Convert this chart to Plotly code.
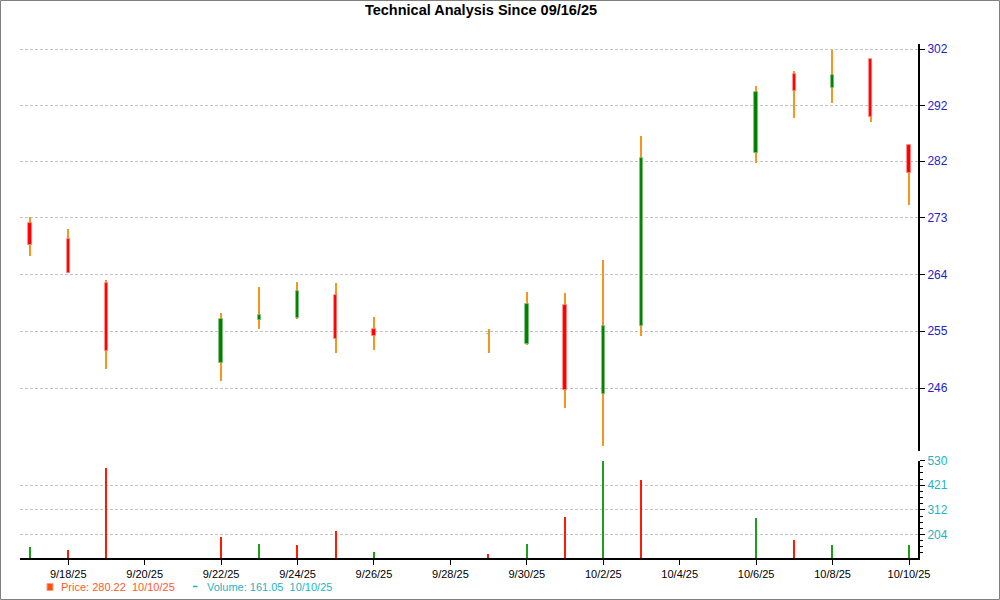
import plotly.graph_objects as go
import numpy as np
import pandas as pd

# ---------------- data ----------------
dates = ["2025-09-17", "2025-09-18", "2025-09-19", "2025-09-22", "2025-09-23",
         "2025-09-24", "2025-09-25", "2025-09-26", "2025-09-29", "2025-09-30",
         "2025-10-01", "2025-10-02", "2025-10-03", "2025-10-06", "2025-10-07",
         "2025-10-08", "2025-10-09", "2025-10-10"]
open_ = [271.9, 269.2, 262.1, 249.7, 256.4, 256.6, 260.3, 254.9, 254.1, 252.6,
         258.6, 245.1, 255.4, 283.5, 297.4, 294.9, 300.1, 284.9]
high = [272.8, 270.8, 262.6, 257.4, 261.5, 262.3, 262.1, 256.8, 254.9, 260.7,
        260.5, 265.8, 286.5, 295.3, 298.0, 301.9, 300.1, 284.9]
low = [266.5, 263.7, 248.8, 247.1, 255.0, 256.5, 251.3, 251.7, 251.2, 252.5,
       243.1, 237.5, 253.8, 281.9, 289.7, 292.3, 289.0, 274.8]
close = [268.3, 263.8, 251.6, 256.5, 257.1, 260.8, 253.4, 253.9, 254.1, 258.9,
         245.7, 255.4, 282.7, 294.3, 294.5, 297.2, 289.8, 280.22]
volume = [151, 138, 497, 195, 164, 160, 222, 129, 120, 164,
          284, 530, 448, 280, 182, 160, None, 161.05]
volume_up = [1, 0, 0, 0, 1, 0, 0, 1, 0, 1, 0, 1, 0, 1, 0, 1, None, 1]

price_ticks = [246, 254.6, 263.5, 272.7, 282.2, 291.8, 302]
price_ticklabels = ["246", "255", "264", "273", "282", "292", "302"]
volume_ticks = [204, 312, 421, 530]
volume_ticklabels = ["204", "312", "421", "530"]
title_text = "Technical Analysis Since 09/16/25"
last_label = "10/10/25"

# ---------------- geometry helpers ----------------
W, H = 1000, 600
ML, MR, MT, MB = 20, 82, 44, 42
PW, PH = W - ML - MR, H - MT - MB


def px_x(px):
    return (px - ML) / PW


def px_y(py):
    return (H - MB - py) / PH


DAY = 86400000
px_per_day = 38.217
ms_per_px = DAY / px_per_day

x = pd.to_datetime(dates)
o = np.array(open_)
h = np.array(high)
l = np.array(low)
c = np.array(close)
up = c >= o

WICK = "#f5961e"
RED = "#ff0000"
GREEN = "#008000"

fig = go.Figure()

# wicks
fig.add_trace(go.Bar(
    x=x, base=l, y=h - l, width=1.2 * ms_per_px,
    marker=dict(color=WICK, line=dict(width=0)),
    xaxis="x", yaxis="y", showlegend=False, hoverinfo="skip"))

# bodies
body_lo = np.minimum(o, c)
body_hi = np.maximum(o, c)
fig.add_trace(go.Bar(
    x=x, base=body_lo, y=body_hi - body_lo, width=3.4 * ms_per_px,
    marker=dict(color=[GREEN if u else RED for u in up],
                line=dict(width=0.8, color=["#7fbf7f" if u else "#ff8a8a" for u in up])),
    xaxis="x", yaxis="y", showlegend=False, hoverinfo="skip"))

# volume
vx = [d for d, v in zip(x, volume) if v is not None]
vy = [v for v in volume if v is not None]
vc = ["#1ca01c" if u else "#ff1a00" for u, v in zip(volume_up, volume) if v is not None]
vmin = 100
fig.add_trace(go.Bar(
    x=vx, base=vmin, y=[v - vmin for v in vy], width=1.3 * ms_per_px,
    marker=dict(color=vc, line=dict(width=0)),
    xaxis="x2", yaxis="y2", showlegend=False, hoverinfo="skip"))

# axis ranges
t_first = x[0]
t_last = x[-1]
x_range = [t_first - pd.Timedelta(milliseconds=10 * ms_per_px),
           t_last + pd.Timedelta(milliseconds=9 * ms_per_px)]

k = 0.000605  # ln units per pixel on price axis
p_top = 302 * np.exp(5 * k)
p_bot = 302 * np.exp(-402 * k)

minor_vals = []
for a, b in zip(volume_ticks[:-1], volume_ticks[1:]):
    minor_vals += list(np.linspace(a, b, 5)[1:-1])
minor_vals += [volume_ticks[0] - (volume_ticks[1] - volume_ticks[0]) / 4 * i for i in range(1, 4)]

grid = dict(showgrid=True, gridcolor="#c4c4c4", gridwidth=1, griddash="3px,2px")
tickfont_x = dict(family="Liberation Sans, Arial, sans-serif", size=11, color="#000000")

fig.update_layout(
    width=W, height=H,
    margin=dict(l=ML, r=MR, t=MT, b=MB),
    paper_bgcolor="white", plot_bgcolor="white",
    barmode="overlay", bargap=0,
    showlegend=False,
    title=dict(text="<b>" + title_text + "</b>", x=481 / W, xref="container", xanchor="center",
               y=1 - 10 / H, yref="container", yanchor="middle",
               font=dict(family="Liberation Sans, Arial, sans-serif", size=14.5, color="#000000")),
    xaxis=dict(domain=[0, 1], anchor="y", type="date", range=x_range, visible=False,
               showgrid=False),
    xaxis2=dict(domain=[0, 1], anchor="y2", type="date", range=x_range, matches="x",
                showgrid=False, showline=True, linecolor="#000000", linewidth=2,
                ticks="outside", ticklen=5, tickcolor="#000000", tickwidth=1,
                tick0="2025-09-18", dtick=2 * DAY, tickformat="%-m/%-d/%y",
                tickfont=tickfont_x, zeroline=False),
    yaxis=dict(domain=[px_y(451), 1], anchor="x", side="right", type="log",
               range=[np.log10(p_bot), np.log10(p_top)],
               tickmode="array", tickvals=price_ticks, ticktext=price_ticklabels,
               showline=True, linecolor="#000000", linewidth=2,
               ticks="outside", ticklen=5, tickcolor="#000000",
               tickfont=dict(family="Liberation Sans, Arial, sans-serif", size=12, color="#2222cc"),
               zeroline=False, **grid),
    yaxis2=dict(domain=[0, px_y(460.5)], anchor="x2", side="right",
                range=[vmin, 530],
                tickmode="array", tickvals=volume_ticks, ticktext=volume_ticklabels,
                showline=True, linecolor="#000000", linewidth=2,
                ticks="outside", ticklen=5, tickcolor="#000000",
                minor=dict(tickmode="array", tickvals=minor_vals, ticks="outside",
                           ticklen=3, tickcolor="#000000", showgrid=False),
                tickfont=dict(family="Liberation Sans, Arial, sans-serif", size=12, color="#1fb3c3"),
                zeroline=False, **grid),
)

# frame around the picture
fig.add_shape(type="rect", xref="paper", yref="paper",
              x0=px_x(0.5), x1=px_x(999.5), y0=px_y(599.5), y1=px_y(0.5),
              line=dict(color="#808080", width=1), fillcolor="rgba(0,0,0,0)", layer="above")

# legend-like text at bottom
legend_font = dict(family="Liberation Sans, Arial, sans-serif", size=11)
fig.add_shape(type="rect", xref="paper", yref="paper",
              x0=px_x(47), x1=px_x(53), y0=px_y(590.5), y1=px_y(583.5),
              line=dict(color="#f4a080", width=1), fillcolor="#ff4f10")
fig.add_annotation(xref="paper", yref="paper", x=px_x(59), y=px_y(587), xanchor="left",
                   yanchor="middle", showarrow=False,
                   text=f"Price: {close[-1]:.2f}\u00a0\u00a0{last_label}",
                   font=dict(color="#ff5a28", **legend_font))
fig.add_shape(type="line", xref="paper", yref="paper",
              x0=px_x(193), x1=px_x(197.5), y0=px_y(586.5), y1=px_y(586.5),
              line=dict(color="#1fb3c3", width=1.5))
fig.add_annotation(xref="paper", yref="paper", x=px_x(205), y=px_y(587), xanchor="left",
                   yanchor="middle", showarrow=False,
                   text=f"Volume: {volume[-1]:.2f}\u00a0\u00a0{last_label}",
                   font=dict(color="#1fb3c3", **legend_font))

fig.write_html("out.html", config={"displayModeBar": False},
               post_script="document.body.style.margin='0';document.body.style.overflow='hidden';")
